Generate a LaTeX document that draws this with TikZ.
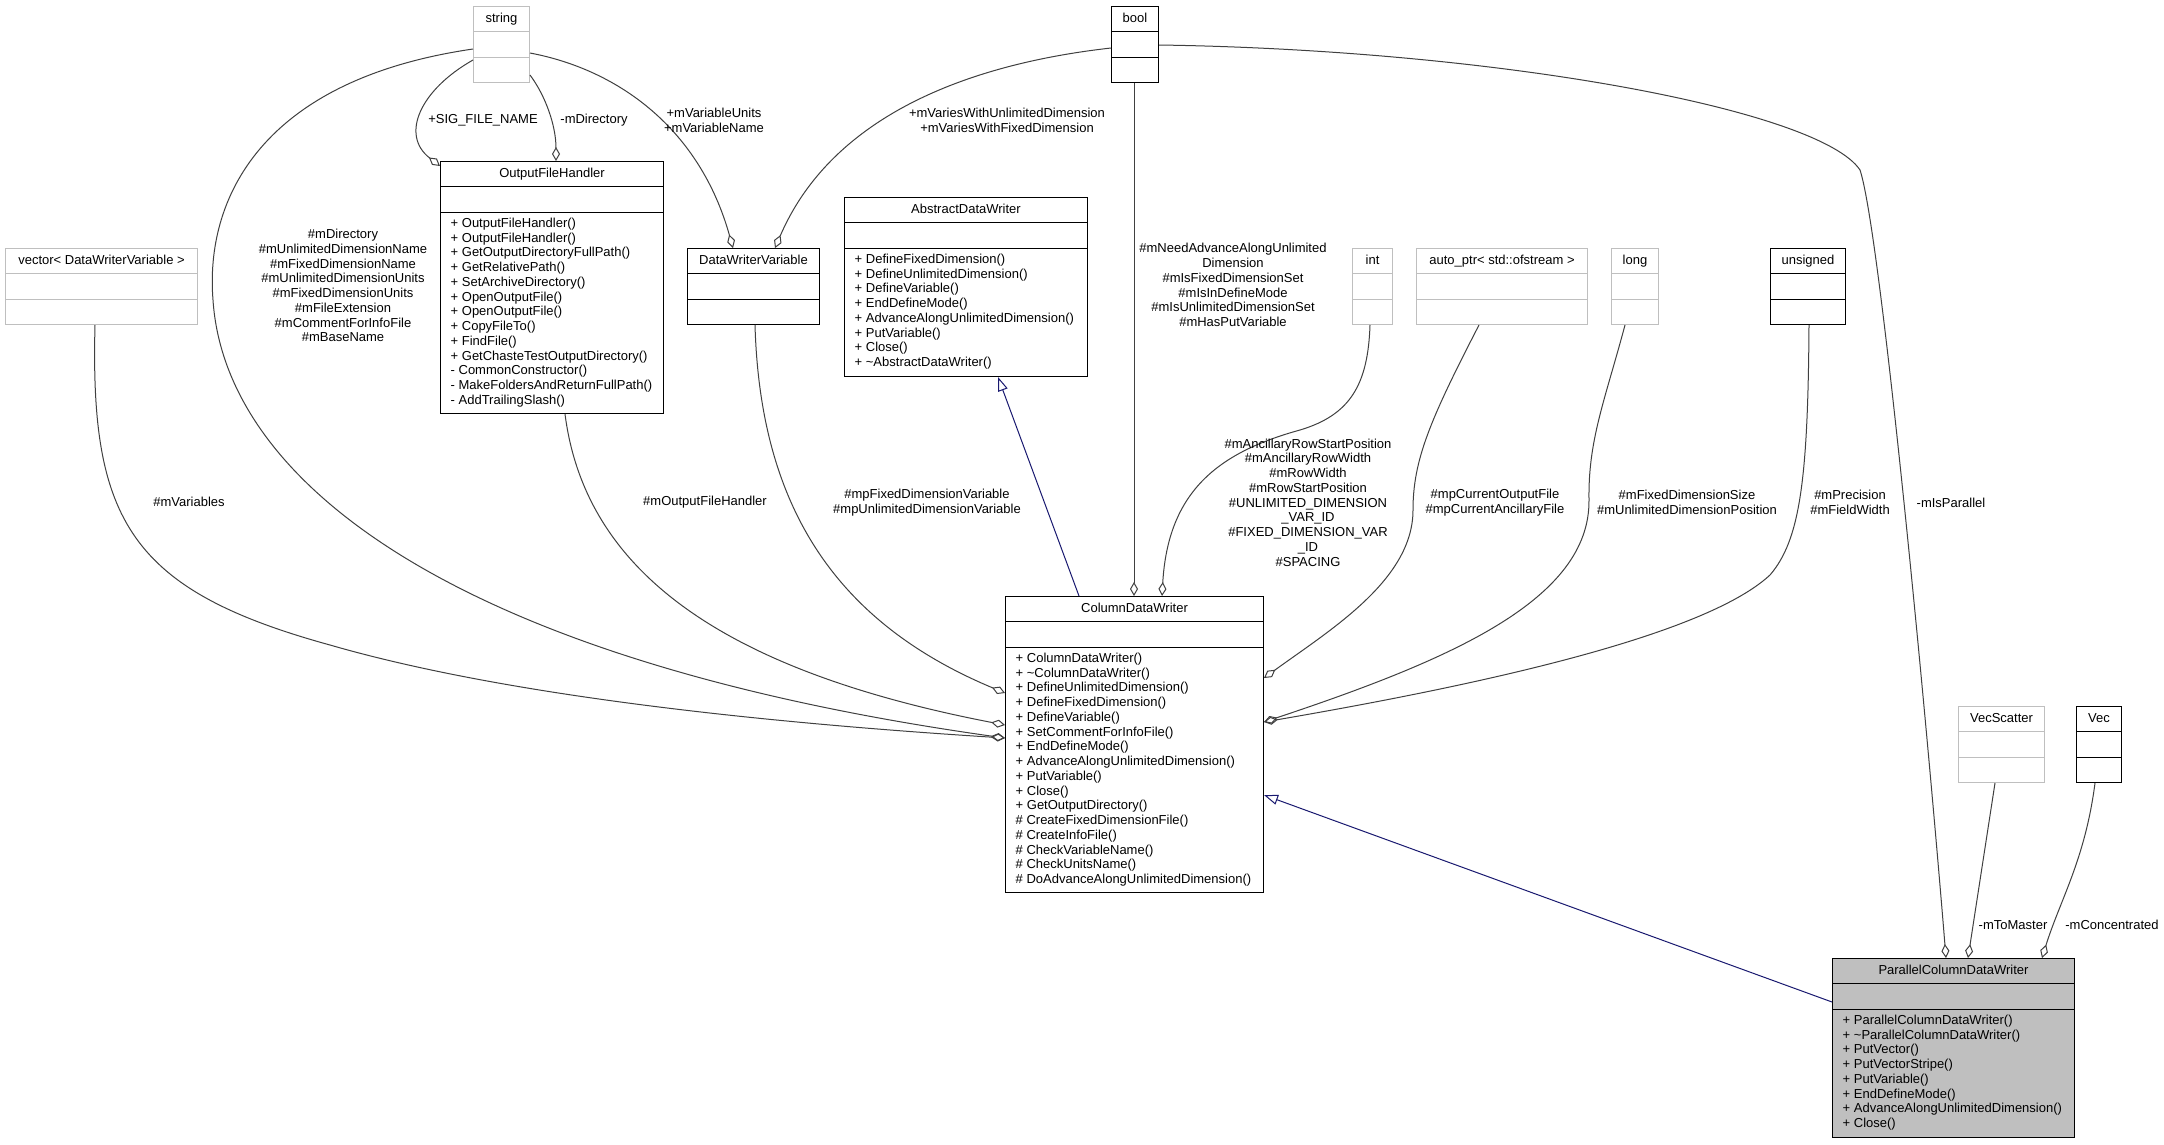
\documentclass[tikz,border=0pt]{standalone}
\usepackage{fontspec}
\setmainfont{Liberation Sans}
\usetikzlibrary{arrows.meta,calc}
\definecolor{edgegray}{HTML}{404040}
\definecolor{boxgray}{HTML}{BFBFBF}
\definecolor{inhblue}{HTML}{191970}
\newcommand{\dfont}{\fontsize{13}{14.75}\selectfont}
\newcommand{\umlbox}[8]{%
  \node[draw=#2, fill=#3, line width=1pt, inner sep=0pt, minimum width=#6pt, minimum height=#7pt, anchor=north west] (#1) at (#4,#5) {};
  \draw[#2, line width=1pt] ($(#1.north west)+(0,25.5)$) -- ($(#1.north east)+(0,25.5)$)
     ($(#1.north west)+(0,51)$) -- ($(#1.north east)+(0,51)$);
  \node[font=\dfont, inner sep=0pt, text height=9.4pt, text depth=2.7pt] (#1-t) at ($(#1.north)+(0,13)$) {#8};
}
\tikzset{
  agg/.style={draw=edgegray, line width=1pt, -{Diamond[open, length=14pt, width=8pt, line width=1pt]}},
  inh/.style={draw=inhblue, line width=1pt, -{Triangle[open, length=14pt, width=10pt, line width=1pt]}},
  lbl/.style={font=\dfont, align=center, inner sep=0pt},
  mth/.style={font=\dfont, align=left, anchor=north west, inner sep=0pt},
}
\begin{document}
\begin{tikzpicture}[x=1pt,y=-1pt]
\useasboundingbox[fill=white] (0,0) rectangle (2164,1144);

% boxes
\umlbox{str}{boxgray}{white}{473}{6}{56}{76}{string}
\umlbox{ofh}{black}{white}{440}{161}{223}{252}{OutputFileHandler}
\umlbox{vec}{boxgray}{white}{5}{248}{192}{76}{vector< DataWriterVariable >}
\umlbox{dwv}{black}{white}{687}{248}{132}{76}{DataWriterVariable}
\umlbox{adw}{black}{white}{844}{197}{243}{179}{AbstractDataWriter}
\umlbox{bool}{black}{white}{1111}{6}{47}{76}{bool}
\umlbox{int}{boxgray}{white}{1352}{248}{40}{76}{int}
\umlbox{aptr}{boxgray}{white}{1416}{248}{171}{76}{auto\_ptr< std::ofstream >}
\umlbox{long}{boxgray}{white}{1611}{248}{47}{76}{long}
\umlbox{uns}{black}{white}{1770}{248}{75}{76}{unsigned}
\umlbox{cdw}{black}{white}{1005}{596}{258}{296}{ColumnDataWriter}
\umlbox{vsc}{boxgray}{white}{1958}{706}{86}{76}{VecScatter}
\umlbox{vecb}{black}{white}{2076}{706}{45}{76}{Vec}
\umlbox{pcdw}{black}{boxgray}{1832}{958}{242}{179}{ParallelColumnDataWriter}

% methods
\node[mth] (ofh-m) at ($(ofh.north west)+(10.5,56.8)$) {+ OutputFileHandler()\\+ OutputFileHandler()\\+ GetOutputDirectoryFullPath()\\+ GetRelativePath()\\+ SetArchiveDirectory()\\+ OpenOutputFile()\\+ OpenOutputFile()\\+ CopyFileTo()\\+ FindFile()\\+ GetChasteTestOutputDirectory()\\- CommonConstructor()\\- MakeFoldersAndReturnFullPath()\\- AddTrailingSlash()};
\node[mth] (adw-m) at ($(adw.north west)+(10.5,56.8)$) {+ DefineFixedDimension()\\+ DefineUnlimitedDimension()\\+ DefineVariable()\\+ EndDefineMode()\\+ AdvanceAlongUnlimitedDimension()\\+ PutVariable()\\+ Close()\\+ \textasciitilde AbstractDataWriter()};
\node[mth] (cdw-m) at ($(cdw.north west)+(10.5,56.8)$) {+ ColumnDataWriter()\\+ \textasciitilde ColumnDataWriter()\\+ DefineUnlimitedDimension()\\+ DefineFixedDimension()\\+ DefineVariable()\\+ SetCommentForInfoFile()\\+ EndDefineMode()\\+ AdvanceAlongUnlimitedDimension()\\+ PutVariable()\\+ Close()\\+ GetOutputDirectory()\\\# CreateFixedDimensionFile()\\\# CreateInfoFile()\\\# CheckVariableName()\\\# CheckUnitsName()\\\# DoAdvanceAlongUnlimitedDimension()};
\node[mth] (pcdw-m) at ($(pcdw.north west)+(10.5,56.8)$) {+ ParallelColumnDataWriter()\\+ \textasciitilde ParallelColumnDataWriter()\\+ PutVector()\\+ PutVectorStripe()\\+ PutVariable()\\+ EndDefineMode()\\+ AdvanceAlongUnlimitedDimension()\\+ Close()};

% aggregation edges
\draw[agg] ($(str.north west)+(0,54)$) .. controls (420,90) and (400,135) .. ($(ofh.north west)+(0,5)$);
\draw[agg] ($(str.north east)+(0,69)$) .. controls (545,95) and (556,125) .. ($(ofh.north west)+(116,0)$);
\draw[agg] ($(str.north east)+(0,47)$) .. controls (620,70) and (700,130) .. ($(dwv.north west)+(46,0)$);
\draw[agg] ($(bool.north west)+(0,42)$) .. controls (960,65) and (830,120) .. ($(dwv.north west)+(88,0)$);
\draw[agg] ($(str.north west)+(0,43)$) .. controls (260,80) and (205,200) .. (213,300) .. controls (225,480) and (450,660) .. ($(cdw.north west)+(0,142)$);
\draw[agg] ($(vec.south west)+(90,0)$) .. controls (90,520) and (130,590) .. (330,645) .. controls (520,700) and (800,725) .. ($(cdw.north west)+(0,142)$);
\draw[agg] ($(ofh.south west)+(125,0)$) .. controls (585,570) and (720,670) .. ($(cdw.north west)+(0,129)$);
\draw[agg] ($(dwv.south west)+(68,0)$) .. controls (760,500) and (830,620) .. ($(cdw.north west)+(0,97)$);
\draw[agg] ($(bool.south west)+(23,0)$) -- ($(cdw.north west)+(129,0)$);
\draw[agg] ($(int.south west)+(18,0)$) .. controls (1368,385) and (1350,415) .. (1300,430) .. controls (1220,452) and (1168,490) .. ($(cdw.north west)+(157,0)$);
\draw[agg] ($(aptr.south west)+(63,0)$) .. controls (1430,420) and (1413,460) .. (1413,510) .. controls (1413,580) and (1330,630) .. ($(cdw.north east)+(0,82)$);
\draw[agg] ($(long.south west)+(14,0)$) .. controls (1605,400) and (1588,440) .. (1589,500) .. controls (1590,600) and (1450,660) .. ($(cdw.north east)+(0,126)$);
\draw[agg] ($(uns.south west)+(39,0)$) .. controls (1808,480) and (1800,540) .. (1770,575) .. controls (1700,640) and (1450,690) .. ($(cdw.north east)+(0,126)$);
\draw[agg] ($(bool.north east)+(0,39)$) .. controls (1500,50) and (1820,110) .. (1860,170) .. controls (1880,230) and (1925,700) .. ($(pcdw.north west)+(114,0)$);
\draw[agg] ($(vsc.south west)+(37,0)$) -- ($(pcdw.north west)+(136,0)$);
\draw[agg] ($(vecb.south west)+(19,0)$) .. controls (2085,860) and (2060,900) .. ($(pcdw.north west)+(210,0)$);

% inheritance
\draw[inh] ($(cdw.north west)+(74,0)$) -- ($(adw.south west)+(154,0)$);
\draw[inh] ($(pcdw.north west)+(0,44)$) -- ($(cdw.north east)+(0,199)$);

% labels
\node[lbl] (l-sig) at (483,120) {+SIG\_FILE\_NAME};
\node[lbl] (l-dir) at (594,120) {-mDirectory};
\node[lbl] (l-vu) at (714,120.5) {+mVariableUnits\\+mVariableName};
\node[lbl] (l-vw) at (1007,120.5) {+mVariesWithUnlimitedDimension\\+mVariesWithFixedDimension};
\node[lbl] (l-str) at (343,285.5) {\#mDirectory\\\#mUnlimitedDimensionName\\\#mFixedDimensionName\\\#mUnlimitedDimensionUnits\\\#mFixedDimensionUnits\\\#mFileExtension\\\#mCommentForInfoFile\\\#mBaseName};
\node[lbl] (l-vars) at (189,502) {\#mVariables};
\node[lbl] (l-ofh) at (705,502) {\#mOutputFileHandler};
\node[lbl] (l-dwv) at (927,502.5) {\#mpFixedDimensionVariable\\\#mpUnlimitedDimensionVariable};
\node[lbl] (l-bool) at (1233,285) {\#mNeedAdvanceAlongUnlimited\\Dimension\\\#mIsFixedDimensionSet\\\#mIsInDefineMode\\\#mIsUnlimitedDimensionSet\\\#mHasPutVariable};
\node[lbl] (l-int) at (1308,502.5) {\#mAncillaryRowStartPosition\\\#mAncillaryRowWidth\\\#mRowWidth\\\#mRowStartPosition\\\#UNLIMITED\_DIMENSION\\\_VAR\_ID\\\#FIXED\_DIMENSION\_VAR\\\_ID\\\#SPACING};
\node[lbl] (l-aptr) at (1495,502.5) {\#mpCurrentOutputFile\\\#mpCurrentAncillaryFile};
\node[lbl] (l-long) at (1687,502.5) {\#mFixedDimensionSize\\\#mUnlimitedDimensionPosition};
\node[lbl] (l-uns) at (1850,502.5) {\#mPrecision\\\#mFieldWidth};
\node[lbl] (l-par) at (1951,503) {-mIsParallel};
\node[lbl] (l-tm) at (2013,925) {-mToMaster};
\node[lbl] (l-conc) at (2112,925) {-mConcentrated};
\end{tikzpicture}
\end{document}
